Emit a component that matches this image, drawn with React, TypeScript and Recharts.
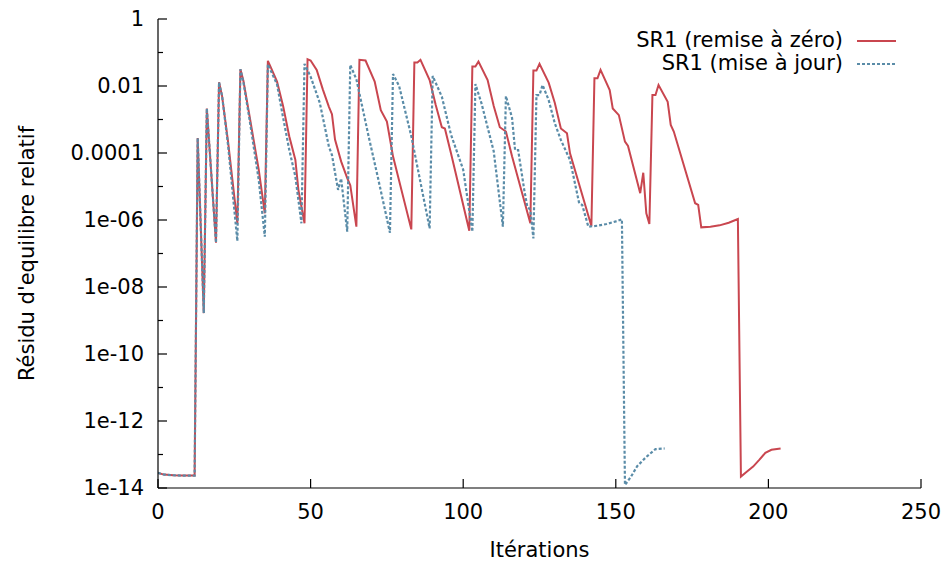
import React from 'react';
import { LineChart, Line, XAxis, YAxis, Legend } from 'recharts';

// iteration numbers and log10(residual)
const resetIter = [
    0, 2, 5, 8, 12, 13, 15, 16, 19, 20, 21, 23, 26, 27, 28, 30, 33, 35,
    36, 37, 39, 41, 43, 45, 46, 48,
    49, 50, 52, 54, 56, 57, 58, 60, 62, 63, 65,
    66, 68, 71, 73, 75, 77, 83,
    84, 85, 86, 89, 91, 93, 94, 96, 102,
    103, 104, 105, 108, 110, 112, 114, 116, 122,
    123, 124, 125, 128, 130, 132, 134, 135, 142,
    143, 144, 145, 148, 149, 151, 153, 154, 158, 159, 160, 161,
    162, 163, 164, 167, 168, 169, 176, 177, 178, 181, 184, 187, 190,
    191, 193, 195, 197, 199, 201, 204,
];
const resetLog = [
    -13.55, -13.6, -13.62, -13.63, -13.63, -3.55, -8.78, -2.67, -6.68, -1.89, -2.3, -3.7, -6.1, -1.5, -1.85, -2.9, -4.5, -5.8,
    -1.25, -1.45, -1.87, -2.6, -3.5, -4.2, -5.1, -6.1,
    -1.2, -1.24, -1.52, -2.1, -2.62, -2.84, -3.6, -4.25, -4.75, -4.96, -6.2,
    -1.22, -1.24, -1.87, -2.72, -3.06, -4.1, -6.28,
    -1.3, -1.3, -1.22, -1.82, -2.57, -3.23, -3.27, -4.01, -6.32,
    -1.42, -1.42, -1.27, -1.82, -2.6, -3.23, -3.36, -4.1, -6.1,
    -1.54, -1.54, -1.34, -1.9, -2.5, -3.27, -3.41, -4.01, -6.18,
    -1.77, -1.77, -1.52, -2.12, -2.67, -2.87, -3.66, -3.79, -5.2, -4.59, -5.8, -6.12,
    -2.27, -2.27, -1.97, -2.47, -3.16, -3.36, -5.5, -5.55, -6.22, -6.2, -6.16, -6.08, -5.97,
    -13.66, -13.51, -13.36, -13.16, -12.95, -12.86, -12.82,
];

const updateIter = [
    0, 2, 5, 8, 12, 13, 15, 16, 19, 20, 21, 23, 26, 27, 28, 30, 33, 35,
    36, 37, 39, 41, 43, 45, 47,
    48, 50, 53, 56, 57, 59, 60, 62,
    63, 65, 69, 72, 76,
    77, 79, 83, 89,
    90, 93, 96, 100, 103,
    104, 106, 110, 113,
    114, 116, 117, 118, 120, 121, 122, 123,
    124, 125, 126, 128, 130, 132, 135, 138, 139, 141, 144, 147, 150, 152,
    153, 155, 157, 160, 163, 166,
];
const updateLog = [
    -13.55, -13.6, -13.62, -13.63, -13.63, -3.55, -8.78, -2.67, -6.68, -1.89, -2.3, -3.8, -6.63, -1.5, -1.9, -3.0, -4.8, -6.5,
    -1.35, -1.55, -1.95, -2.95, -3.9, -4.7, -6.1,
    -1.34, -1.72, -2.5, -3.81, -4.06, -5.1, -4.76, -6.35,
    -1.37, -1.8, -3.5, -4.71, -6.38,
    -1.64, -2.0, -3.5, -6.25,
    -1.7, -2.32, -3.45, -4.5, -6.35,
    -1.94, -2.52, -3.95, -6.2,
    -2.3, -2.95, -3.91, -3.91, -5.1, -5.6, -5.7, -6.55,
    -2.27, -2.27, -1.97, -2.42, -3.11, -3.61, -4.21, -5.5, -5.55, -6.2, -6.17, -6.12, -6.04, -5.98,
    -13.91, -13.66, -13.35, -13.07, -12.84, -12.82,
];

const xTicks = [0, 50, 100, 150, 200, 250];
const yTicks = [-14, -13, -12, -11, -10, -9, -8, -7, -6, -5, -4, -3, -2, -1, 0];
const yLabels: Record<number, string> = {
    0: '1', [-2]: '0.01', [-4]: '0.0001', [-6]: '1e-06', [-8]: '1e-08',
    [-10]: '1e-10', [-12]: '1e-12', [-14]: '1e-14',
};

const RED = '#c9464f';
const BLUE = '#5a8ca8';
const FONT = '"DejaVu Sans", sans-serif';

const resetData = resetIter.map((it, i) => ({ iter: it, value: resetLog[i] }));
const updateData = updateIter.map((it, i) => ({ iter: it, value: updateLog[i] }));

// eslint-disable-next-line @typescript-eslint/no-explicit-any
const LeftTick = (props: any) => {
    const { x, y, payload } = props;
    const major = payload.value % 2 === 0;
    return (
        <g>
            <line x1={x} x2={x + (major ? 9 : 5)} y1={y} y2={y} stroke="#000" strokeWidth={1.2} />
            {major && (
                <text x={x - 14} y={y} textAnchor="end" dominantBaseline="central" fill="#000" style={{ fontFamily: FONT, fontSize: 21 }}>
                    {yLabels[payload.value]}
                </text>
            )}
        </g>
    );
};

// eslint-disable-next-line @typescript-eslint/no-explicit-any
const RightTick = (props: any) => {
    const { x, y, payload } = props;
    const major = payload.value % 2 === 0;
    return <line x1={x} x2={x - (major ? 9 : 5)} y1={y} y2={y} stroke="#000" strokeWidth={1.2} />;
};

// eslint-disable-next-line @typescript-eslint/no-explicit-any
const BottomTick = (props: any) => {
    const { x, y, payload } = props;
    return (
        <g>
            <line x1={x} x2={x} y1={y} y2={y - 9} stroke="#000" strokeWidth={1.2} />
            <text x={x} y={y + 24} textAnchor="middle" dominantBaseline="central" fill="#000" style={{ fontFamily: FONT, fontSize: 21 }}>
                {payload.value}
            </text>
        </g>
    );
};

// eslint-disable-next-line @typescript-eslint/no-explicit-any
const TopTick = (props: any) => {
    const { x, y } = props;
    return <line x1={x} x2={x} y1={y} y2={y + 9} stroke="#000" strokeWidth={1.2} />;
};

const legendRows = [
    { name: 'SR1 (remise à zéro)', color: RED, dash: undefined },
    { name: 'SR1 (mise à jour)', color: BLUE, dash: '3 2' },
];

const LegendBox = () => (
    <div style={{ fontFamily: FONT, fontSize: 21, color: '#000' }}>
        {legendRows.map((row) => (
            <div key={row.name} style={{ display: 'flex', justifyContent: 'flex-end', alignItems: 'center', height: 23, lineHeight: '23px' }}>
                <span style={{ whiteSpace: 'nowrap' }}>{row.name}</span>
                <svg width={43} height={10} style={{ marginLeft: 14 }}>
                    <line x1={0} x2={39} y1={5} y2={5} stroke={row.color} strokeWidth={2} strokeDasharray={row.dash} />
                </svg>
            </div>
        ))}
    </div>
);

export default function App() {
    return (
        <div style={{ position: 'absolute', left: 0, top: 0, width: 949, height: 561, background: '#fff' }}>
            <LineChart width={949} height={561} margin={{ top: 19, right: 28, bottom: 0, left: 0 }}>
                <XAxis
                    xAxisId="main"
                    type="number"
                    dataKey="iter"
                    domain={[0, 250]}
                    ticks={xTicks}
                    allowDataOverflow
                    height={73}
                    tickSize={0}
                    tickMargin={0}
                    tickLine={false}
                    axisLine={{ stroke: '#000', strokeWidth: 1.2 }}
                    tick={<BottomTick />}
                    label={{
                        // eslint-disable-next-line @typescript-eslint/no-explicit-any
                        content: (p: any) => (
                            <text x={p.viewBox.x + p.viewBox.width / 2} y={p.viewBox.y + 62} textAnchor="middle" dominantBaseline="central" fill="#000" style={{ fontFamily: FONT, fontSize: 21 }}>
                                Itérations
                            </text>
                        ),
                    }}
                />
                <XAxis
                    xAxisId="top"
                    orientation="top"
                    type="number"
                    domain={[0, 250]}
                    ticks={xTicks}
                    height={0}
                    tickSize={0}
                    tickMargin={0}
                    tickLine={false}
                    axisLine={{ stroke: '#000', strokeWidth: 1.2 }}
                    tick={<TopTick />}
                />
                <YAxis
                    yAxisId="main"
                    type="number"
                    domain={[-14, 0]}
                    ticks={yTicks}
                    interval={0}
                    allowDataOverflow
                    width={158}
                    tickSize={0}
                    tickMargin={0}
                    tickLine={false}
                    axisLine={{ stroke: '#000', strokeWidth: 1.2 }}
                    tick={<LeftTick />}
                    label={{
                        // eslint-disable-next-line @typescript-eslint/no-explicit-any
                        content: (p: any) => {
                            const cx = 27;
                            const cy = p.viewBox.y + p.viewBox.height / 2;
                            return (
                                <text x={cx} y={cy} transform={`rotate(-90, ${cx}, ${cy})`} textAnchor="middle" dominantBaseline="central" fill="#000" style={{ fontFamily: FONT, fontSize: 21 }}>
                                    Résidu d'equilibre relatif
                                </text>
                            );
                        },
                    }}
                />
                <YAxis
                    yAxisId="mirror"
                    orientation="right"
                    type="number"
                    domain={[-14, 0]}
                    ticks={yTicks}
                    interval={0}
                    width={0}
                    tickSize={0}
                    tickMargin={0}
                    tickLine={false}
                    axisLine={{ stroke: '#000', strokeWidth: 1.2 }}
                    tick={<RightTick />}
                />
                <Legend
                    layout="vertical"
                    align="center"
                    verticalAlign="middle"
                    wrapperStyle={{ top: 29, left: 560, width: 340, height: 46 }}
                    content={<LegendBox />}
                />
                <Line
                    xAxisId="main"
                    yAxisId="main"
                    data={resetData}
                    dataKey="value"
                    name="SR1 (remise à zéro)"
                    stroke={RED}
                    strokeWidth={2}
                    dot={false}
                    type="linear"
                    isAnimationActive={false}
                />
                <Line
                    xAxisId="main"
                    yAxisId="main"
                    data={updateData}
                    dataKey="value"
                    name="SR1 (mise à jour)"
                    stroke={BLUE}
                    strokeWidth={2.2}
                    strokeDasharray="3 2"
                    dot={false}
                    type="linear"
                    isAnimationActive={false}
                />
            </LineChart>
        </div>
    );
}
